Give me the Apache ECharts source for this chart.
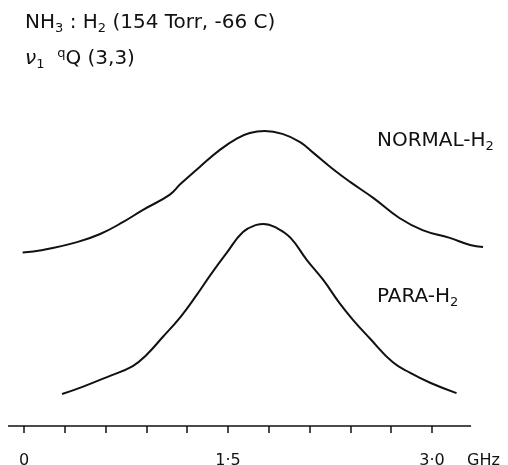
<!DOCTYPE html>
<html>
<head>
<meta charset="utf-8">
<script src="https://cdn.jsdelivr.net/npm/echarts@6/dist/echarts.min.js"></script>
<style>
  html, body { margin: 0; padding: 0; background: #fff; }
  #chart { width: 508px; height: 465px; }
</style>
</head>
<body>
<div id="chart"></div>
<script>
// 頻率刻度 (GHz)
const tickGHz = [0, 0.3, 0.6, 0.9, 1.2, 1.5, 1.8, 2.1, 2.4, 2.7, 3.0];
const labelGHz = [0, 1.5, 3.0];
// 軸線範圍 (GHz)
const axisStart = -0.1176;
const axisEnd = 3.287;

// NORMAL-H2 曲線 [GHz, 相對吸收]
const normalFreq = [-0.01, 0.14, 0.39, 0.56, 0.73, 0.875, 1.07, 1.15, 1.29, 1.44, 1.57, 1.66, 1.77, 1.90, 2.03, 2.13, 2.28, 2.40, 2.57, 2.76, 2.93, 3.13, 3.28, 3.375];
const normalAbs = [53.2, 54.0, 56.4, 58.9, 62.6, 66.3, 70.9, 74.2, 79.4, 84.7, 88.3, 89.9, 90.5, 89.6, 87.1, 83.7, 78.5, 74.8, 69.9, 63.8, 60.1, 57.7, 55.5, 54.9];

// PARA-H2 曲線 [GHz, 相對吸收]
const paraFreq = [0.28, 0.43, 0.61, 0.80, 0.90, 1.02, 1.15, 1.27, 1.37, 1.49, 1.61, 1.71, 1.76, 1.86, 1.96, 2.08, 2.20, 2.32, 2.42, 2.54, 2.71, 2.84, 2.99, 3.18];
const paraAbs = [9.8, 12.0, 15.0, 18.4, 21.8, 27.3, 33.4, 40.2, 46.3, 53.1, 59.5, 61.7, 62.0, 60.7, 57.7, 50.9, 44.8, 37.7, 32.5, 27.0, 19.6, 16.3, 13.2, 10.1];

const zip = (xs, ys) => xs.map((x, i) => [x, ys[i]]);

const font = 'DejaVu Sans';
const ink = '#111';
const richText = {
    sub: { fontFamily: font, fontSize: 13, color: ink, padding: [11, 0, 0, 0] },
    sup: { fontFamily: font, fontSize: 13, color: ink, padding: [0, 0, 11, 0] },
    it: { fontFamily: font, fontSize: 20, color: ink, fontStyle: 'italic' }
};
const textStyle = { fontFamily: font, fontSize: 20, fontWeight: 'normal', color: ink, rich: richText };

const chart = echarts.init(document.getElementById('chart'));

const option = {
    backgroundColor: '#fff',
    animation: false,
    title: [
        { text: 'NH{sub|3} : H{sub|2} (154 Torr, -66 C)', left: 20, top: 6, textStyle },
        { text: '{it|ν}{sub|1}  {sup|q}Q (3,3)', left: 20, top: 42, textStyle },
        { text: 'NORMAL-H{sub|2}', left: 372, top: 124, textStyle },
        { text: 'PARA-H{sub|2}', left: 372, top: 280, textStyle }
    ],
    grid: { left: 8, right: 24, top: 100, bottom: 39, outerBoundsMode: 'none' },
    xAxis: {
        type: 'value',
        min: axisStart,
        max: 3.382,
        name: 'GHz',
        nameLocation: 'end',
        nameGap: -17,
        nameTextStyle: { fontFamily: font, fontSize: 16, color: ink, verticalAlign: 'top', padding: [27, 0, 0, 0] },
        splitLine: { show: false },
        axisLine: { show: false },
        axisTick: { show: true, customValues: tickGHz, length: 7, lineStyle: { color: ink, width: 1.5 } },
        axisLabel: {
            customValues: labelGHz,
            margin: 27,
            fontFamily: font, fontSize: 16, color: ink,
            formatter: v => v === 0 ? '0' : v.toFixed(1).replace('.', '·')
        }
    },
    yAxis: {
        type: 'value', min: 0, max: 100,
        show: false, splitLine: { show: false }
    },
    series: [
        {
            name: 'NORMAL-H2', type: 'line', data: zip(normalFreq, normalAbs),
            smooth: 0.45, showSymbol: false,
            lineStyle: { color: ink, width: 2 },
            // 底部頻率軸線
            markLine: {
                silent: true, symbol: 'none', label: { show: false },
                lineStyle: { color: ink, width: 1.5, type: 'solid' },
                data: [[{ coord: [axisStart, 0] }, { coord: [axisEnd, 0] }]]
            }
        },
        {
            name: 'PARA-H2', type: 'line', data: zip(paraFreq, paraAbs),
            smooth: 0.45, showSymbol: false,
            lineStyle: { color: ink, width: 2 }
        }
    ]
};

chart.setOption(option);
</script>
</body>
</html>
